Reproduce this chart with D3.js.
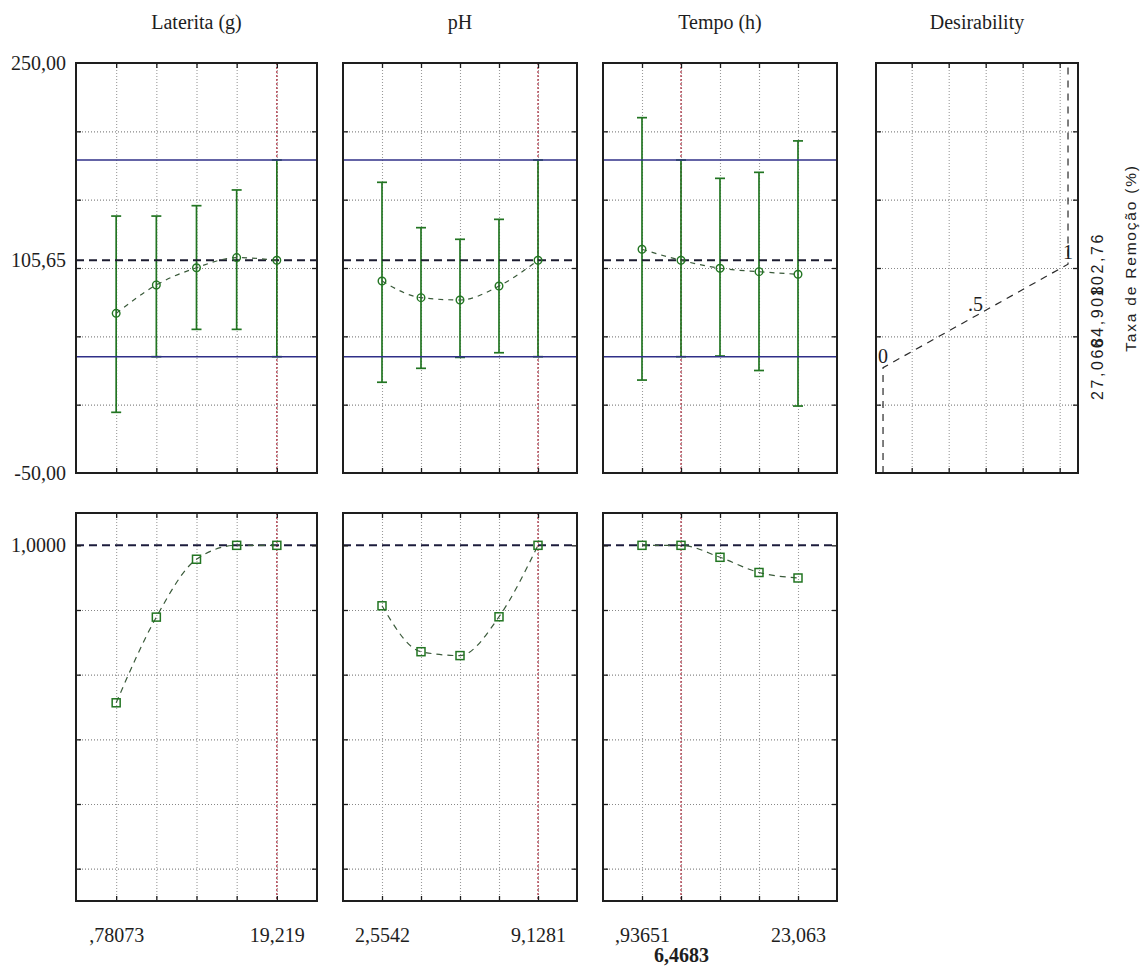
<!DOCTYPE html>
<html><head><meta charset="utf-8">
<script src="https://cdn.jsdelivr.net/npm/d3@7"></script>
<style>body{margin:0;background:#fff}svg{display:block}</style>
</head><body><svg id="c" width="1143" height="967"></svg>
<script>
// ---------------- data ----------------
const factorNames = ["Laterita (g)", "pH", "Tempo (h)"];
const levelsLaterita = [0.78073, 5.3903, 9.99987, 14.60944, 19.219];
const levelsPH       = [2.5542, 4.19768, 5.84115, 7.48463, 9.1281];
const levelsTempo    = [0.93651, 6.4683, 11.99996, 17.53163, 23.063];
const currentLevels  = [19.219, 9.1281, 6.4683];

const predLaterita = [66.8, 87.6, 100.2, 107.6, 105.65];
const lowLaterita  = [-5.6, 35.1, 55.1, 55.1, 35.1];
const highLaterita = [138.0, 138.0, 145.6, 157.1, 179.0];
const predPH  = [90.5, 78.3, 76.6, 86.8, 105.65];
const lowPH   = [16.4, 26.6, 34.6, 38.0, 35.1];
const highPH  = [162.7, 129.5, 121.0, 135.6, 179.0];
const predTempo = [113.7, 105.65, 99.8, 97.3, 95.4];
const lowTempo  = [18.0, 35.1, 35.6, 25.0, -1.0];
const highTempo = [210.0, 179.0, 165.6, 170.0, 193.0];

const desirLaterita = [0.513, 0.778, 0.957, 1.0, 1.0];
const desirPH       = [0.813, 0.671, 0.659, 0.779, 1.0];
const desirTempo    = [1.0, 1.0, 0.963, 0.916, 0.899];

const currentPrediction = 105.65;
const currentCI = [35.1, 179.0];
const overallDesirability = 1.0;

const desirResponse = [27.068, 64.908, 102.76];
const desirValue = [0, 0.5, 1];
const desirPointLabels = ["0", ".5", "1"];
const desirResponseLabels = ["27,068", "64,908", "102,76"];

const responseRange = [-50, 250];
const responseGrid = [0, 50, 100, 150, 200];
const responseLabelValues = [250, 105.65, -50];
const responseLabels = ["250,00", "105,65", "-50,00"];
const desirRange = [-0.1, 1.1];
const desirGrid = [0, 0.2, 0.4, 0.6, 0.8];
const desirLabelValues = [1.0];
const desirLabels = ["1,0000"];
const desirAxisRange = [-0.038, 1.054];
const desirAxisGrid = [0.155, 0.355, 0.555, 0.755, 0.955];

const xLabelsLaterita = [",78073", "19,219"];
const xLabelsPH = ["2,5542", "9,1281"];
const xLabelsTempo = [",93651", "23,063"];
const currentLabels = [null, null, "6,4683"];
const responseTitle = "Taxa de Remoção (%)";
const desirTitle = "Desirability";

const factors = [
  {name: factorNames[0], levels: levelsLaterita, pred: predLaterita, low: lowLaterita, high: highLaterita, desir: desirLaterita, xl: xLabelsLaterita},
  {name: factorNames[1], levels: levelsPH, pred: predPH, low: lowPH, high: highPH, desir: desirPH, xl: xLabelsPH},
  {name: factorNames[2], levels: levelsTempo, pred: predTempo, low: lowTempo, high: highTempo, desir: desirTempo, xl: xLabelsTempo}
];

// ---------------- layout / style ----------------
const SERIF = "'Liberation Serif','Times New Roman',serif";
const SANS = "'Liberation Sans',Arial,sans-serif";
const INK = "#1e1e1e", GREEN = "#227522", NAVY = "#303088", RED = "#b03848";
const P = { xs: [[76,317],[343,577],[603,837]], dx: [876,1078], top: [63,473], bot: [513,901] };

const svg = d3.select("#c");
const yTop = d3.scaleLinear(responseRange, [P.top[1], P.top[0]]);
const yBot = d3.scaleLinear(desirRange, [P.bot[1], P.bot[0]]);

function clean(sel, stroke, dash, width) {
  sel.select(".domain").remove();
  sel.selectAll(".tick text").remove();
  sel.selectAll(".tick line").attr("stroke", stroke).attr("stroke-width", width).attr("stroke-dasharray", dash);
}
function grid(g, x, y, xVals, yVals, x0, x1, y0, y1) {
  g.append("g").attr("transform", `translate(${x0},0)`)
    .call(d3.axisLeft(y).tickValues(yVals).tickSize(-(x1 - x0)).tickFormat(""))
    .call(s => clean(s, "#888", "1,2", 1.1));
  g.append("g").attr("transform", `translate(0,${y1})`)
    .call(d3.axisBottom(x).tickValues(xVals).tickSize(-(y1 - y0)).tickFormat(""))
    .call(s => clean(s, "#9a9a9a", "1,2", 1.1));
}
function inTicks(g, x, y, xVals, yVals, x0, x1, y0, y1) {
  [[d3.axisLeft(y).tickValues(yVals), `translate(${x0},0)`],
   [d3.axisRight(y).tickValues(yVals), `translate(${x1},0)`],
   [d3.axisTop(x).tickValues(xVals), `translate(0,${y0})`],
   [d3.axisBottom(x).tickValues(xVals), `translate(0,${y1})`]].forEach(([ax, tr]) => {
     g.append("g").attr("transform", tr).call(ax.tickSize(-5).tickFormat("")).call(s => clean(s, INK, null, 1.3));
  });
}
function frame(g, x0, x1, y0, y1) {
  g.append("rect").attr("x", x0).attr("y", y0).attr("width", x1 - x0).attr("height", y1 - y0)
    .attr("fill", "none").attr("stroke", INK).attr("stroke-width", 2);
}
function labelAxis(g, axis, tr, bold) {
  const s = g.append("g").attr("transform", tr).call(axis);
  s.select(".domain").remove();
  s.selectAll(".tick line").remove();
  s.attr("font-family", SERIF).attr("font-size", 20);
  s.selectAll("text").attr("fill", INK).attr("font-weight", bold ? "bold" : null);
}
function hline(g, x0, x1, yv, stroke, w, dash) {
  g.append("line").attr("x1", x0).attr("x2", x1).attr("y1", yv).attr("y2", yv)
    .attr("stroke", stroke).attr("stroke-width", w).attr("stroke-dasharray", dash);
}
function vline(g, xv, y0, y1, stroke, w, dash) {
  g.append("line").attr("x1", xv).attr("x2", xv).attr("y1", y0).attr("y2", y1)
    .attr("stroke", stroke).attr("stroke-width", w).attr("stroke-dasharray", dash);
}

// ---------------- factor panels ----------------
factors.forEach((f, i) => {
  const [x0, x1] = P.xs[i];
  const n = f.levels.length;
  const step = (f.levels[n - 1] - f.levels[0]) / (n - 1);
  const x = d3.scaleLinear([f.levels[0] - step, f.levels[n - 1] + step], [x0, x1]);
  const cur = currentLevels[i];

  svg.append("text").attr("x", (x0 + x1) / 2).attr("y", 29).attr("text-anchor", "middle")
    .attr("font-family", SERIF).attr("font-size", 20).attr("fill", INK).text(f.name);

  // ---- top: predicted values ----
  {
    const [y0, y1] = P.top;
    const g = svg.append("g");
    grid(g, x, yTop, f.levels, responseGrid, x0, x1, y0, y1);
    vline(g, x(cur), y0, y1, RED, 1.3, "2,2");
    const eb = g.append("g").attr("stroke", GREEN).attr("stroke-width", 1.7);
    eb.selectAll(".v").data(f.levels).join("line")
      .attr("x1", d => x(d)).attr("x2", d => x(d))
      .attr("y1", (d, j) => yTop(f.low[j])).attr("y2", (d, j) => yTop(f.high[j]));
    eb.selectAll(".lo").data(f.levels).join("line").attr("class", "lo")
      .attr("x1", d => x(d) - 5).attr("x2", d => x(d) + 5)
      .attr("y1", (d, j) => yTop(f.low[j])).attr("y2", (d, j) => yTop(f.low[j]));
    eb.selectAll(".hi").data(f.levels).join("line").attr("class", "hi")
      .attr("x1", d => x(d) - 5).attr("x2", d => x(d) + 5)
      .attr("y1", (d, j) => yTop(f.high[j])).attr("y2", (d, j) => yTop(f.high[j]));
    currentCI.forEach(v => hline(g, x0, x1, yTop(v), NAVY, 1.6, null));
    hline(g, x0, x1, yTop(currentPrediction), "#1c1c30", 2, "8,5");
    const line = d3.line().x(d => x(d[0])).y(d => yTop(d[1])).curve(d3.curveMonotoneX);
    g.append("path").attr("d", line(f.levels.map((l, j) => [l, f.pred[j]])))
      .attr("fill", "none").attr("stroke", "#3a5a3a").attr("stroke-width", 1.2).attr("stroke-dasharray", "5,5");
    g.selectAll("circle").data(f.levels).join("circle")
      .attr("cx", d => x(d)).attr("cy", (d, j) => yTop(f.pred[j])).attr("r", 3.8)
      .attr("fill", "none").attr("stroke", GREEN).attr("stroke-width", 1.4);
    inTicks(g, x, yTop, f.levels, responseGrid, x0, x1, y0, y1);
    frame(g, x0, x1, y0, y1);
    if (i === 0) {
      labelAxis(g, d3.axisLeft(yTop).tickValues(responseLabelValues)
        .tickFormat((d, j) => responseLabels[j]).tickSize(0).tickPadding(10), `translate(${x0},0)`);
    }
  }

  // ---- bottom: desirability ----
  {
    const [y0, y1] = P.bot;
    const g = svg.append("g");
    grid(g, x, yBot, f.levels, desirGrid, x0, x1, y0, y1);
    vline(g, x(cur), y0, y1, RED, 1.3, "2,2");
    hline(g, x0, x1, yBot(overallDesirability), "#1c1c3c", 2, "8,5");
    const line = d3.line().x(d => x(d[0])).y(d => yBot(d[1])).curve(d3.curveMonotoneX);
    g.append("path").attr("d", line(f.levels.map((l, j) => [l, f.desir[j]])))
      .attr("fill", "none").attr("stroke", "#3a5a3a").attr("stroke-width", 1.2).attr("stroke-dasharray", "6,5");
    g.selectAll("rect.m").data(f.levels).join("rect").attr("class", "m")
      .attr("x", d => x(d) - 4).attr("y", (d, j) => yBot(f.desir[j]) - 4)
      .attr("width", 8).attr("height", 8)
      .attr("fill", "none").attr("stroke", GREEN).attr("stroke-width", 1.5);
    inTicks(g, x, yBot, f.levels, desirGrid.concat([overallDesirability]), x0, x1, y0, y1);
    frame(g, x0, x1, y0, y1);
    if (i === 0) {
      labelAxis(g, d3.axisLeft(yBot).tickValues(desirLabelValues)
        .tickFormat((d, j) => desirLabels[j]).tickSize(0).tickPadding(10), `translate(${x0},0)`);
    }
    labelAxis(g, d3.axisBottom(x).tickValues([f.levels[0], f.levels[n - 1]])
      .tickFormat((d, j) => f.xl[j]).tickSize(0).tickPadding(27), `translate(0,${y1})`);
    if (currentLabels[i]) {
      labelAxis(g, d3.axisBottom(x).tickValues([cur])
        .tickFormat(() => currentLabels[i]).tickSize(0).tickPadding(47), `translate(0,${y1})`, true);
    }
  }
});

// ---------------- desirability function panel ----------------
{
  const [x0, x1] = P.dx, [y0, y1] = P.top;
  const xD = d3.scaleLinear(desirAxisRange, [x0, x1]);
  const g = svg.append("g");
  svg.append("text").attr("x", (x0 + x1) / 2).attr("y", 29).attr("text-anchor", "middle")
    .attr("font-family", SERIF).attr("font-size", 20).attr("fill", INK).text(desirTitle);
  grid(g, xD, yTop, desirAxisGrid, responseGrid, x0, x1, y0, y1);
  const pts = [[desirValue[0], responseRange[0]]]
    .concat(desirResponse.map((r, j) => [desirValue[j], r]))
    .concat([[desirValue[desirValue.length - 1], responseRange[1]]]);
  g.append("path").attr("d", d3.line().x(d => xD(d[0])).y(d => yTop(d[1]))(pts))
    .attr("fill", "none").attr("stroke", "#2a2a2a").attr("stroke-width", 1.2).attr("stroke-dasharray", "7,6");
  g.selectAll("text.dl").data(desirValue).join("text").attr("class", "dl")
    .attr("x", d => xD(d)).attr("y", (d, j) => yTop(desirResponse[j]) - 5)
    .attr("text-anchor", "middle").attr("font-family", SERIF).attr("font-size", 20).attr("fill", INK)
    .text((d, j) => desirPointLabels[j]);
  inTicks(g, xD, yTop, desirAxisGrid, responseGrid, x0, x1, y0, y1);
  frame(g, x0, x1, y0, y1);

  desirResponse.forEach((r, j) => {
    svg.append("text").attr("transform", `translate(1103,${yTop(r)}) rotate(-90)`)
      .attr("text-anchor", "middle").attr("font-family", SANS).attr("font-size", 16)
      .attr("letter-spacing", 2.6).attr("fill", INK).text(desirResponseLabels[j]);
  });
  svg.append("text").attr("transform", `translate(1136,258) rotate(-90)`)
    .attr("text-anchor", "middle").attr("font-family", SANS).attr("font-size", 15.5)
    .attr("letter-spacing", 1.8).attr("fill", INK).text(responseTitle);
}
</script>
</body></html>
